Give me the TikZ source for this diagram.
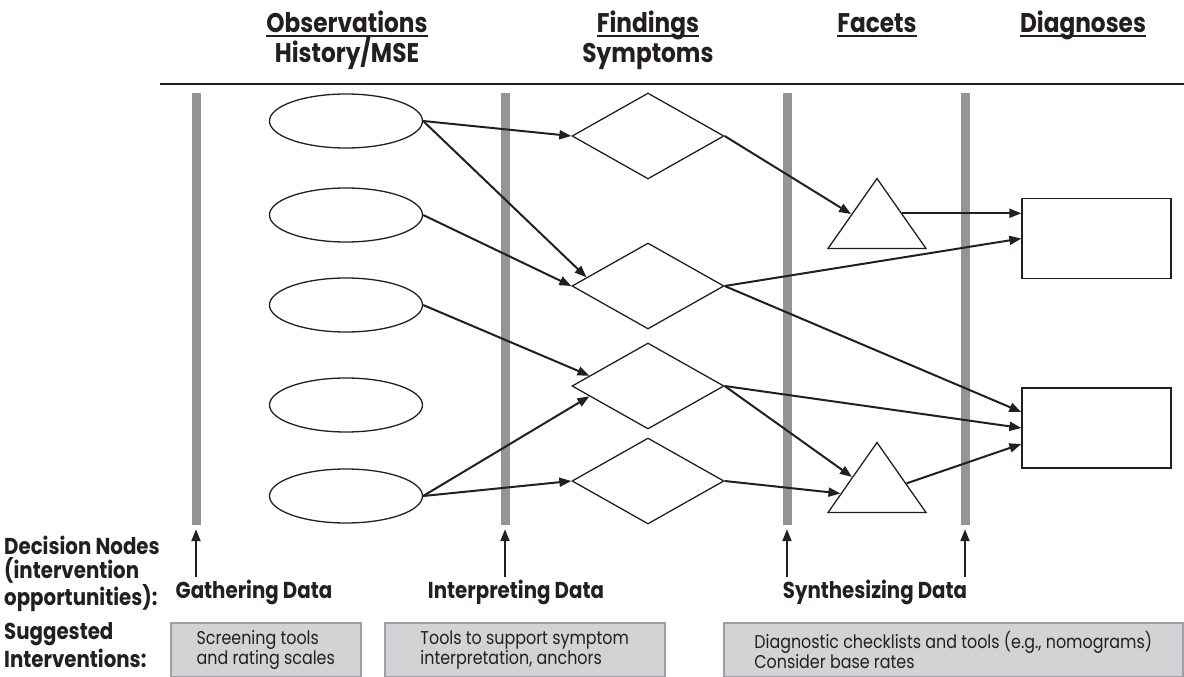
\documentclass[tikz,border=0pt]{standalone}
\usepackage{fontspec}
\setmainfont{Poppins}[FakeStretch=0.86]
\usetikzlibrary{arrows.meta, shapes.geometric, calc}

\definecolor{inkblack}{HTML}{231F20}
\definecolor{bargray}{HTML}{939598}
\definecolor{boxgray}{HTML}{D1D3D4}
\definecolor{edgegray}{HTML}{9D9FA2}

\begin{document}
\begin{tikzpicture}[
    x=1pt, y=-1pt,
    head/.style={inner sep=0pt, anchor=base, font=\fontsize{27}{30}\selectfont\bfseries, text=inkblack},
    stage/.style={inner sep=0pt, anchor=base, font=\fontsize{23}{24}\selectfont\bfseries, text=inkblack},
    side/.style={inner sep=0pt, anchor=north west, align=left, font=\fontsize{23}{24}\selectfont\bfseries, text=inkblack},
    obsv/.style={ellipse, draw=inkblack, line width=1.3pt, minimum width=153pt, minimum height=54pt, inner sep=0pt},
    finding/.style={diamond, draw=inkblack, line width=1.3pt, minimum width=152pt, minimum height=86pt, inner sep=0pt},
    facet/.style={isosceles triangle, isosceles triangle stretches, shape border rotate=90, draw=inkblack, line width=1.3pt, minimum width=98pt, minimum height=70pt, inner sep=0pt},
    diag/.style={rectangle, draw=inkblack, line width=1.3pt, minimum width=149pt, minimum height=80pt, inner sep=0pt},
    bar/.style={rectangle, fill=bargray, minimum width=9pt, minimum height=432pt, inner sep=0pt},
    sugbox/.style={rectangle, fill=boxgray, draw=edgegray, line width=1.5pt, minimum height=54pt, inner sep=0pt, anchor=north west, align=left, font=\fontsize{18.5}{20}\selectfont, text=inkblack},
    link/.style={-{Triangle[length=12pt, width=9pt]}, line width=2pt, draw=inkblack},
    rule/.style={line width=2pt, draw=inkblack},
]
    \useasboundingbox (0,0) rectangle (1184,677);

    % Column headings
    \node[head] (obs) at (347,33) {Observations};
    \node[head] (hist) at (347,63) {History/MSE};
    \node[head] (fnd) at (648,33) {Findings};
    \node[head] (sym) at (648,63) {Symptoms};
    \node[head] (fct) at (877,33) {Facets};
    \node[head] (dgn) at (1083,33) {Diagnoses};
    \draw[rule] ([yshift=-3pt]obs.base west) -- ([yshift=-3pt]obs.base east);
    \draw[rule] ([yshift=-3pt]fnd.base west) -- ([yshift=-3pt]fnd.base east);
    \draw[rule] ([yshift=-3pt]fct.base west) -- ([yshift=-3pt]fct.base east);
    \draw[rule] ([yshift=-3pt]dgn.base west) -- ([yshift=-3pt]dgn.base east);
    \draw[rule] (160,84) -- (1184,84);

    % Decision bars
    \node[bar] (bar1) at (196,309) {};
    \node[bar] (bar2) at (505,309) {};
    \node[bar] (bar3) at (787,309) {};
    \node[bar] (bar4) at (965,309) {};

    % Observations
    \node[obsv] (o1) at (346,121) {};
    \node[obsv] (o2) at (346,215) {};
    \node[obsv] (o3) at (346,305) {};
    \node[obsv] (o4) at (346,405) {};
    \node[obsv] (o5) at (346,496) {};

    % Findings
    \node[finding] (d1) at (648,136) {};
    \node[finding] (d2) at (648,286) {};
    \node[finding] (d3) at (648,386) {};
    \node[finding] (d4) at (648,481) {};

    % Facets and diagnoses
    \node[facet] (t1) at (877,223) {};
    \node[facet] (t2) at (877,487) {};
    \node[diag] (r1) at (1096.5,238.5) {};
    \node[diag] (r2) at (1096.5,428) {};

    % Links
    \draw[link] (o1.east) -- (d1.west);
    \draw[link] (o1.east) -- (d2.172);
    \draw[link] (o2.east) -- (d2.west);
    \draw[link] (o3.east) -- (d3.170);
    \draw[link] (o5.east) -- (d3.190);
    \draw[link] (o5.east) -- (d4.west);
    \draw[link] (d1.east) -- (t1.161);
    \draw[link] (t1.21) -- (t1.21 -| r1.west);
    \draw[link] (d2.east) -- (r1.west);
    \draw[link] (d2.east) -- (r2.168);
    \draw[link] (d3.east) -- (r2.west);
    \draw[link] (d3.east) -- (t2.158);
    \draw[link] (d4.east) -- (t2.190);
    \draw[link] (t2.7) -- (r2.192);

    % Decision nodes along the bottom
    \coordinate (foot1) at (196,577);
    \coordinate (foot2) at (505,577);
    \coordinate (foot3) at (787,577);
    \coordinate (foot4) at (965,577);
    \draw[link, shorten >=4pt] (foot1) -- (bar1.south);
    \draw[link, shorten >=4pt] (foot2) -- (bar2.south);
    \draw[link, shorten >=4pt] (foot3) -- (bar3.south);
    \draw[link, shorten >=4pt] (foot4) -- (bar4.south);

    \node[side] (dec) at (4,536) {Decision Nodes\\(intervention\\opportunities):};
    \node[stage] (gath) at (254,598) {Gathering Data};
    \node[stage] (intp) at (516,598) {Interpreting Data};
    \node[stage] (synt) at (875,598) {Synthesizing Data};

    % Suggested interventions
    \node[side] (sug) at (4,622) {Suggested\\[3pt]Interventions:};
    \node[sugbox, minimum width=190pt] (tool1) at (170,622) {Screening tools\\and rating scales};
    \node[sugbox, minimum width=280pt] (tool2) at (384,622) {Tools to support symptom\\interpretation, anchors};
    \node[sugbox, minimum width=459pt] (tool3) at (723,622) {Diagnostic checklists and tools (e.g., nomograms)\\Consider base rates};
\end{tikzpicture}
\end{document}
